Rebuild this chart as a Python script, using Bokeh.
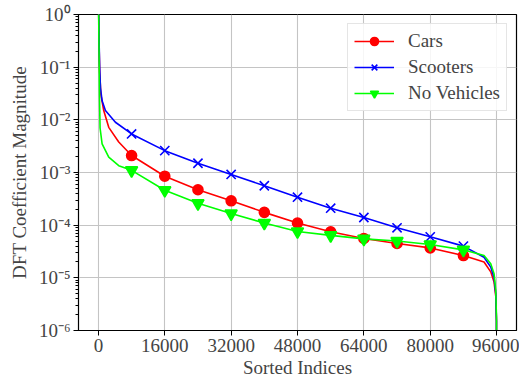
from bokeh.plotting import figure
from bokeh.models import (Range1d, LogTicker, FixedTicker, CustomJSTickFormatter,
                          Legend, LegendItem, ColumnDataSource)
from bokeh.embed import file_html
from bokeh.resources import INLINE

# Sorted DFT coefficient magnitudes (curve samples)
idx_cars = [0, 150, 300, 600, 1280, 2490, 4900, 8000, 16000, 24000, 32000, 40000, 48000,
            56000, 64000, 72000, 80000, 88000, 92970, 94590, 95390, 95800, 95970, 96000]
mag_cars = [3.0, 0.3, 0.08, 0.03, 0.015, 7.2e-3, 3.8e-3, 2.1e-3, 8.5e-4, 4.7e-4, 2.9e-4,
            1.75e-4, 1.1e-4, 7.5e-5, 5.6e-5, 4.5e-5, 3.7e-5, 2.65e-5, 2.0e-5, 1.3e-5,
            8.3e-6, 4.5e-6, 1.5e-6, 1e-8]

idx_scooters = [0, 150, 300, 500, 890, 1690, 4100, 8000, 16000, 24000, 32000, 40000, 48000,
                56000, 64000, 72000, 80000, 88000, 92970, 94590, 95390, 95800, 95970, 96000]
mag_scooters = [3.0, 0.35, 0.1, 0.04, 0.023, 0.015, 9.0e-3, 5.4e-3, 2.6e-3, 1.5e-3, 9.2e-4,
                5.6e-4, 3.4e-4, 2.1e-4, 1.4e-4, 8.9e-5, 6.0e-5, 4.0e-5, 2.46e-5, 1.6e-5,
                1.0e-5, 5.0e-6, 1.5e-6, 1e-8]

idx_none = [0, 150, 250, 400, 890, 2490, 4900, 8000, 16000, 24000, 32000, 40000, 48000,
            56000, 64000, 72000, 80000, 88000, 92970, 94590, 95390, 95800, 95970, 96000]
mag_none = [3.0, 0.2, 0.03, 7e-3, 3.5e-3, 1.95e-3, 1.35e-3, 1.1e-3, 4.6e-4, 2.6e-4, 1.66e-4,
            1.1e-4, 7.6e-5, 6.4e-5, 5.5e-5, 5.0e-5, 4.3e-5, 3.4e-5, 2.65e-5, 1.85e-5,
            1.2e-5, 5.7e-6, 1.8e-6, 1e-8]

# Marker positions (every 8000 indices)
marker_idx = [8000, 16000, 24000, 32000, 40000, 48000, 56000, 64000, 72000, 80000, 88000]

x_ticks = [0, 16000, 32000, 48000, 64000, 80000, 96000]

FONT = "Liberation Serif"

p = figure(width=519, height=380, y_axis_type="log", output_backend="svg",
           toolbar_location=None,
           x_range=Range1d(-4800, 100800), y_range=Range1d(1e-6, 1.0),
           min_border_left=78, min_border_right=3, min_border_top=14, min_border_bottom=48)

p.outline_line_color = "black"
p.outline_line_width = 1.2
p.background_fill_color = "white"
p.border_fill_color = "white"

series = [
    ("Cars", idx_cars, mag_cars, "#ff0000", "circle", 10),
    ("Scooters", idx_scooters, mag_scooters, "#0000ff", "x", 13),
    ("No Vehicles", idx_none, mag_none, "#00ff00", "inverted_triangle", 12),
]

items = []
for name, xs, ys, color, marker, size in series:
    ln = p.line(xs, ys, line_color=color, line_width=1.6)
    mx = [x for x in xs if x in marker_idx]
    my = [y for x, y in zip(xs, ys) if x in marker_idx]
    src = ColumnDataSource(dict(x=mx, y=my))
    sc = p.scatter("x", "y", source=src, marker=marker, size=size,
                   line_color=color, fill_color=color, line_width=1.6)
    items.append(LegendItem(label=name, renderers=[ln, sc]))

legend = Legend(items=items, location="top_right",
                label_text_font=FONT, label_text_font_size="19px",
                glyph_width=40, glyph_height=20, label_standoff=14,
                spacing=4, padding=6, margin=9,
                border_line_color="#cccccc", border_line_width=1,
                background_fill_color="white", background_fill_alpha=0.85)
p.add_layout(legend)

# Axes
p.xaxis.ticker = FixedTicker(ticks=x_ticks)
p.xaxis.axis_label = "Sorted Indices"
p.yaxis.axis_label = "DFT Coefficient Magnitude"
p.yaxis.ticker = LogTicker(num_minor_ticks=10, desired_num_ticks=7)
p.yaxis.formatter = CustomJSTickFormatter(code="""
    const sup = {"0":"\u2070","1":"\u00b9","2":"\u00b2","3":"\u00b3","4":"\u2074",
                 "5":"\u2075","6":"\u2076","7":"\u2077","8":"\u2078","9":"\u2079","-":"\u207b"};
    const e = Math.round(Math.log10(tick)).toString();
    return "10" + e.split("").map(c => sup[c]).join("");
""")

for ax in (p.xaxis, p.yaxis):
    ax.axis_label_text_font = FONT
    ax.axis_label_text_font_style = "normal"
    ax.axis_label_text_font_size = "19px"
    ax.major_label_text_font = FONT
    ax.major_label_text_font_size = "19px"
    ax.axis_line_color = "black"
    ax.major_tick_line_color = "black"
    ax.minor_tick_line_color = "black"
    ax.major_tick_in = 0
    ax.major_tick_out = 5
    ax.minor_tick_in = 0
    ax.minor_tick_out = 3
    ax.major_label_standoff = 3
p.xaxis.minor_tick_line_color = None
p.xaxis.axis_label_standoff = 2
p.yaxis.axis_label_standoff = 6

p.xgrid.ticker = FixedTicker(ticks=x_ticks)
for g in (p.xgrid, p.ygrid):
    g.grid_line_color = "#c4c4c4"
    g.grid_line_width = 1.1

open("out.html", "w").write(file_html(p, INLINE))
